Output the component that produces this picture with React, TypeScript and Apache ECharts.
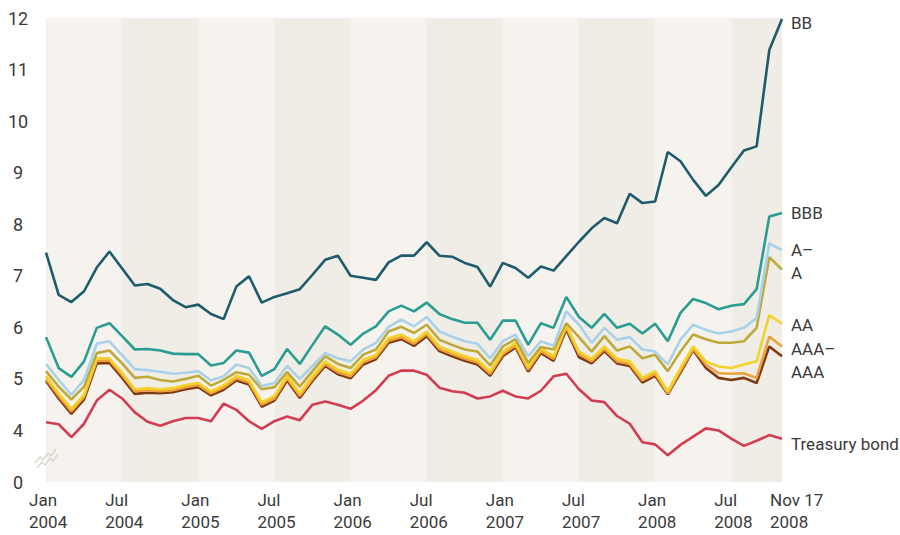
import React, { useEffect, useRef } from "react";
import * as echarts from "echarts";

// Tick labels of the time axis (Jan / Jul of every year, then the last observation)
const tickLabels: [string, string][] = [
  ["Jan", "2004"], ["Jul", "2004"], ["Jan", "2005"], ["Jul", "2005"],
  ["Jan", "2006"], ["Jul", "2006"], ["Jan", "2007"], ["Jul", "2007"],
  ["Jan", "2008"], ["Jul", "2008"], ["Nov 17", "2008"],
];

// Monthly observations, Jan 2004 ... Oct 2008, last = Nov 17 2008 (59 points)
const bb = [7.45, 6.63, 6.49, 6.70, 7.16, 7.47, 7.14, 6.81, 6.84, 6.75,
  6.53, 6.39, 6.44, 6.26, 6.16, 6.79, 6.99, 6.48, 6.59, 6.66,
  6.74, 7.02, 7.31, 7.39, 7.00, 6.96, 6.92, 7.26, 7.39, 7.39,
  7.65, 7.39, 7.37, 7.25, 7.17, 6.79, 7.25, 7.15, 6.96, 7.18,
  7.10, 7.38, 7.66, 7.92, 8.12, 8.02, 8.59, 8.41, 8.44, 9.40,
  9.22, 8.86, 8.55, 8.76, 9.10, 9.43, 9.51, 11.38, 11.98];

const bbb = [5.81, 5.21, 5.04, 5.34, 5.99, 6.08, 5.83, 5.57, 5.58, 5.55,
  5.49, 5.48, 5.48, 5.26, 5.31, 5.55, 5.51, 5.06, 5.19, 5.58,
  5.29, 5.66, 6.02, 5.86, 5.66, 5.88, 6.02, 6.31, 6.42, 6.31,
  6.48, 6.26, 6.16, 6.09, 6.09, 5.76, 6.13, 6.13, 5.66, 6.08,
  5.99, 6.59, 6.20, 5.99, 6.26, 5.99, 6.07, 5.88, 6.07, 5.73,
  6.28, 6.55, 6.47, 6.35, 6.42, 6.45, 6.74, 8.15, 8.22];

const aMinus = [5.29, 4.98, 4.69, 4.98, 5.68, 5.73, 5.46, 5.19, 5.17, 5.14,
  5.10, 5.12, 5.15, 4.97, 5.05, 5.28, 5.21, 4.86, 4.92, 5.25,
  5.00, 5.25, 5.50, 5.40, 5.34, 5.57, 5.70, 6.01, 6.15, 6.02,
  6.20, 5.92, 5.82, 5.73, 5.68, 5.40, 5.73, 5.86, 5.44, 5.73,
  5.64, 6.31, 6.05, 5.70, 5.99, 5.76, 5.81, 5.57, 5.53, 5.28,
  5.76, 6.05, 5.95, 5.88, 5.92, 5.99, 6.18, 7.63, 7.50];

const aRating = [5.15, 4.85, 4.60, 4.85, 5.50, 5.55, 5.30, 5.02, 5.04, 4.98,
  4.95, 5.00, 5.06, 4.87, 4.98, 5.13, 5.08, 4.80, 4.84, 5.13,
  4.85, 5.15, 5.44, 5.29, 5.21, 5.47, 5.57, 5.92, 6.01, 5.89,
  6.05, 5.76, 5.66, 5.57, 5.53, 5.26, 5.63, 5.77, 5.31, 5.62,
  5.57, 6.08, 5.81, 5.53, 5.83, 5.55, 5.63, 5.40, 5.47, 5.15,
  5.53, 5.86, 5.77, 5.70, 5.70, 5.73, 5.99, 7.36, 7.12];

const aa = [5.05, 4.72, 4.42, 4.70, 5.40, 5.40, 5.12, 4.80, 4.82, 4.80,
  4.82, 4.88, 4.92, 4.76, 4.88, 5.06, 4.98, 4.55, 4.67, 5.06,
  4.72, 5.05, 5.34, 5.18, 5.10, 5.37, 5.47, 5.79, 5.86, 5.73,
  5.92, 5.63, 5.53, 5.44, 5.37, 5.15, 5.53, 5.70, 5.23, 5.59,
  5.44, 6.05, 5.53, 5.39, 5.63, 5.39, 5.34, 5.02, 5.15, 4.76,
  5.21, 5.63, 5.34, 5.24, 5.21, 5.28, 5.34, 6.24, 6.07];

const aaaMinus = [5.00, 4.67, 4.37, 4.65, 5.35, 5.36, 5.07, 4.76, 4.78, 4.76,
  4.78, 4.84, 4.88, 4.72, 4.83, 5.01, 4.93, 4.50, 4.62, 5.01,
  4.67, 5.00, 5.29, 5.13, 5.05, 5.32, 5.42, 5.74, 5.81, 5.68,
  5.87, 5.58, 5.48, 5.39, 5.32, 5.10, 5.48, 5.65, 5.18, 5.54,
  5.39, 6.00, 5.48, 5.34, 5.58, 5.34, 5.29, 4.97, 5.10, 4.72,
  5.16, 5.58, 5.28, 5.11, 5.10, 5.11, 5.02, 5.82, 5.63];

const aaa = [4.96, 4.62, 4.32, 4.60, 5.30, 5.31, 5.02, 4.71, 4.73, 4.72,
  4.74, 4.80, 4.84, 4.68, 4.79, 4.97, 4.89, 4.46, 4.58, 4.97,
  4.63, 4.96, 5.25, 5.09, 5.01, 5.28, 5.38, 5.70, 5.77, 5.64,
  5.83, 5.54, 5.44, 5.35, 5.28, 5.06, 5.44, 5.61, 5.14, 5.50,
  5.35, 5.96, 5.42, 5.30, 5.54, 5.30, 5.25, 4.93, 5.06, 4.70,
  5.12, 5.56, 5.21, 5.02, 4.98, 5.02, 4.92, 5.63, 5.44];

const treasury = [4.16, 4.12, 3.87, 4.13, 4.58, 4.79, 4.62, 4.35, 4.17, 4.09,
  4.18, 4.24, 4.24, 4.18, 4.52, 4.40, 4.18, 4.03, 4.18, 4.27,
  4.20, 4.50, 4.56, 4.50, 4.42, 4.58, 4.78, 5.06, 5.16, 5.16,
  5.08, 4.83, 4.76, 4.73, 4.62, 4.66, 4.77, 4.66, 4.62, 4.77,
  5.05, 5.10, 4.80, 4.58, 4.55, 4.28, 4.13, 3.77, 3.73, 3.52,
  3.72, 3.88, 4.04, 4.00, 3.84, 3.70, 3.80, 3.91, 3.84];

const seriesNames = ["Treasury bond", "AAA", "AAA–", "AA", "A", "A–", "BBB", "BB"];
const seriesData = [treasury, aaa, aaaMinus, aa, aRating, aMinus, bbb, bb];
const seriesColors = ["#d23d52", "#7d3b12", "#f0a03a", "#f2d32a", "#bea93a", "#a9d2ea", "#2a9d92", "#1e5b6d"];
const labelShift = [5, 16, 3, 1, 3, 0, 0, 4];

const FONT = "Roboto, 'Liberation Sans', sans-serif";
const TEXT = "#3a3a3a";
const FS = 17;

export default function App() {
  const ref = useRef<HTMLDivElement>(null);
  useEffect(() => {
    if (!ref.current) return;
    const chart = echarts.init(ref.current, undefined, { renderer: "svg" });
    const lastX = bb.length - 1;
    const option: any = {
      animation: false,
      backgroundColor: "#ffffff",
      grid: { left: 46, right: 118, top: 18, bottom: 53, containLabel: false, outerBoundsMode: "none" },
      xAxis: {
        type: "value",
        min: 0,
        max: lastX,
        interval: 6,
        axisLine: { show: false },
        axisTick: { show: false },
        splitLine: { show: false },
        splitArea: { show: true, areaStyle: { color: ["#f6f3ee", "#f0ece6"] } },
        axisLabel: {
          showMinLabel: true,
          showMaxLabel: true,
          margin: 7,
          formatter: (v: number) => {
            if (v === lastX) {
              const t = tickLabels[tickLabels.length - 1];
              return `{n|${t[0]}}\n{n|${t[1]}}`;
            }
            const t = tickLabels[Math.round(v / 6)];
            return t ? `{m|${t[0]}}\n{m|${t[1]}}` : "";
          },
          rich: {
            m: { width: 34, align: "left", fontSize: FS, lineHeight: 22, fontFamily: FONT, color: TEXT },
            n: { width: 24, align: "left", fontSize: FS, lineHeight: 22, fontFamily: FONT, color: TEXT },
          },
        },
      },
      yAxis: {
        type: "value",
        min: 3,
        max: 12,
        interval: 1,
        axisLine: { show: false },
        axisTick: { show: false },
        splitLine: { show: true, lineStyle: { color: "#ffffff", width: 1.5 } },
        axisLabel: {
          align: "center",
          margin: 28,
          fontSize: FS + 1,
          fontFamily: FONT,
          color: TEXT,
          formatter: (v: number) => (v === 3 ? "0" : String(v)),
        },
      },
      graphic: [
        {
          type: "polyline",
          silent: true,
          z: 100,
          shape: { points: [[35, 463], [40, 457], [43, 460], [48, 453], [51, 456], [56, 449]] },
          style: { stroke: "#d8d4cc", lineWidth: 1.3, fill: "none" },
        },
        {
          type: "polyline",
          silent: true,
          z: 100,
          shape: { points: [[37, 468], [42, 462], [45, 465], [50, 458], [53, 461], [58, 454]] },
          style: { stroke: "#d8d4cc", lineWidth: 1.3, fill: "none" },
        },
      ],
      series: seriesNames.map((name, k) => ({
        name,
        type: "line",
        data: seriesData[k].map((v, i) => [i, v]),
        symbol: "none",
        silent: true,
        lineStyle: { color: seriesColors[k], width: 2.6 },
        itemStyle: { color: seriesColors[k] },
        endLabel: {
          show: true,
          formatter: "{a}",
          distance: 9,
          offset: [0, labelShift[k]],
          color: TEXT,
          fontSize: FS,
          fontFamily: FONT,
        },
        z: 2 + k,
      })),
    };
    chart.setOption(option);
    return () => chart.dispose();
  }, []);
  return (
    <div
      ref={ref}
      style={{ position: "fixed", left: 0, top: 0, width: 900, height: 535, background: "#fff" }}
    />
  );
}
